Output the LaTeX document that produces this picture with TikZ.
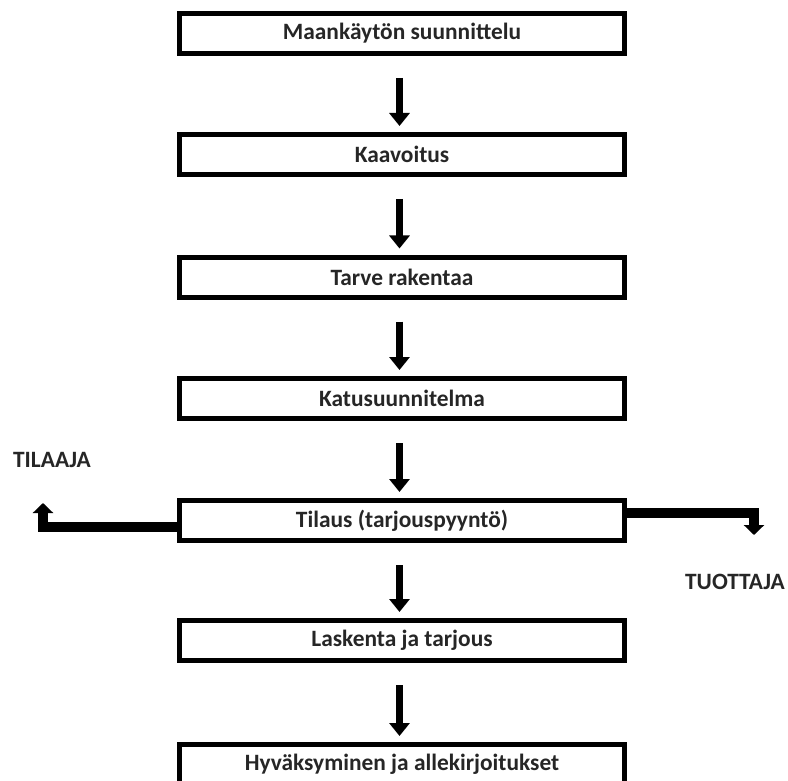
\documentclass[tikz,border=0pt]{standalone}
\usepackage{fontspec}
\setmainfont{Carlito}
\usetikzlibrary{arrows.meta,calc}
\begin{document}
\begin{tikzpicture}[x=1pt,y=-1pt,
  stage/.style={draw=black, line width=5pt, fill=white, minimum width=445pt, minimum height=40pt,
    inner sep=0pt, font=\bfseries\fontsize{23.4}{26}\selectfont, text=black!85},
  downarrow/.style={line width=7pt, -{Triangle[width=20pt,length=13pt]}},
  sidearrow/.style={line width=10pt, line join=miter, -{Triangle[width=20pt,length=10pt]}},
  sidelabel/.style={font=\bfseries\fontsize{23.4}{26}\selectfont, text=black!85}]
\useasboundingbox (0,0) rectangle (788,781);
\clip (0,0) rectangle (788,781);
\fill[white] (0,0) rectangle (788,781);
\node[stage] (b1) at (402,33.5) {Maankäytön suunnittelu};
\node[stage] (b2) at (402,154.5) {Kaavoitus};
\node[stage] (b3) at (402,277) {Tarve rakentaa};
\node[stage] (b4) at (402,398.5) {Katusuunnitelma};
\node[stage] (b5) at (402,520.5) {Tilaus (tarjouspyyntö)};
\node[stage] (b6) at (402,640.5) {Laskenta ja tarjous};
\node[stage] (b7) at (402,764.5) {Hyväksyminen ja allekirjoitukset};
\foreach \a/\b in {b1/b2,b2/b3,b3/b4,b4/b5,b5/b6,b6/b7}{
  \draw[downarrow] ($(\a.south)+(-2.5,22)$) -- ($(\b.north)+(-2.5,-6)$);
}
\node[sidelabel] (tilaaja) at (52,460) {TILAAJA};
\node[sidelabel] (tuottaja) at (735,582) {TUOTTAJA};
\coordinate (ltip) at (43,503);
\coordinate (rtip) at (754,535);
\draw[sidearrow] ($(b5.west)+(0,6.5)$) -| (ltip);
\draw[sidearrow] ($(b5.east)+(0,-7.5)$) -| (rtip);
\end{tikzpicture}
\end{document}
